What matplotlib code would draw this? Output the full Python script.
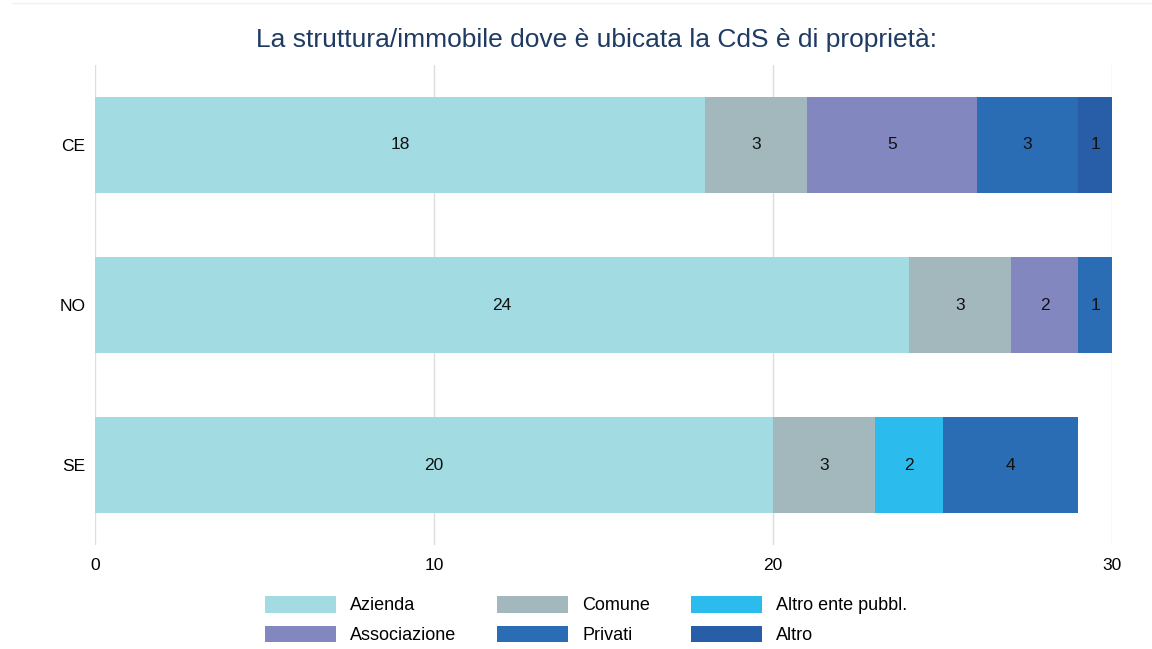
import matplotlib
matplotlib.use('Agg')
import matplotlib.pyplot as plt
import numpy as np

plt.rcParams['font.family'] = ['Liberation Sans', 'DejaVu Sans']

regioni = ['CE', 'NO', 'SE']
serie = ['Azienda', 'Comune', 'Associazione', 'Altro ente pubbl.', 'Privati', 'Altro']
colori = ['#a3dbe3', '#a2b8bd', '#8387c0', '#2bbbec', '#2a6db5', '#285da8']
azienda = [18, 24, 20]
comune = [3, 3, 3]
associazione = [5, 2, 0]
altro_ente = [0, 0, 2]
privati = [3, 1, 4]
altro = [1, 0, 0]
valori = [azienda, comune, associazione, altro_ente, privati, altro]

fig = plt.figure(figsize=(11.52, 6.49), dpi=100)
ax = fig.add_axes([0.0825, 0.16, 0.883, 0.74])

y = np.arange(len(regioni))
left = np.zeros(len(regioni))
barre = {}
for nome, v, c in zip(serie, valori, colori):
  v = np.array(v, dtype=float)
  b = ax.barh(y, v, left=left, height=0.6, color=c, zorder=2)
  barre[nome] = b
  for i in range(len(regioni)):
    if v[i] > 0:
      ax.text(left[i] + v[i] / 2, y[i], '%d' % v[i], ha='center', va='center', fontsize=12.5, color='#111111', zorder=3)
  left = left + v

ax.set_yticks(y)
ax.set_yticklabels(regioni, fontsize=12.5)
ax.set_ylim(2.5, -0.5)
ax.set_xlim(0, 30)
ax.set_xticks([0, 10, 20, 30])
ax.tick_params(axis='x', labelsize=12.5, length=0, pad=9)
ax.tick_params(axis='y', length=0, pad=7)
ax.grid(axis='x', color='#dddddd', linewidth=1, zorder=0)
for s in ax.spines.values():
  s.set_visible(False)

fig.text(0.518, 1 - 40 / 649, 'La struttura/immobile dove è ubicata la CdS è di proprietà:',
         fontsize=19, color='#1f3a63', ha='center', va='center')

ordine = ['Azienda', 'Associazione', 'Comune', 'Privati', 'Altro ente pubbl.', 'Altro']
fig.legend([barre[n] for n in ordine], ordine, ncol=3, loc='upper left', bbox_to_anchor=(0.224, 0.093),
           frameon=False, fontsize=13, handlelength=3.93, handleheight=1.05, columnspacing=2.25,
           labelspacing=0.62, handletextpad=0.78, borderpad=0.4, borderaxespad=0)

fig.add_artist(plt.Line2D([0.01, 1.0], [0.995, 0.995], color='#eef3f3', linewidth=1))

plt.savefig('out.png', dpi=100)
